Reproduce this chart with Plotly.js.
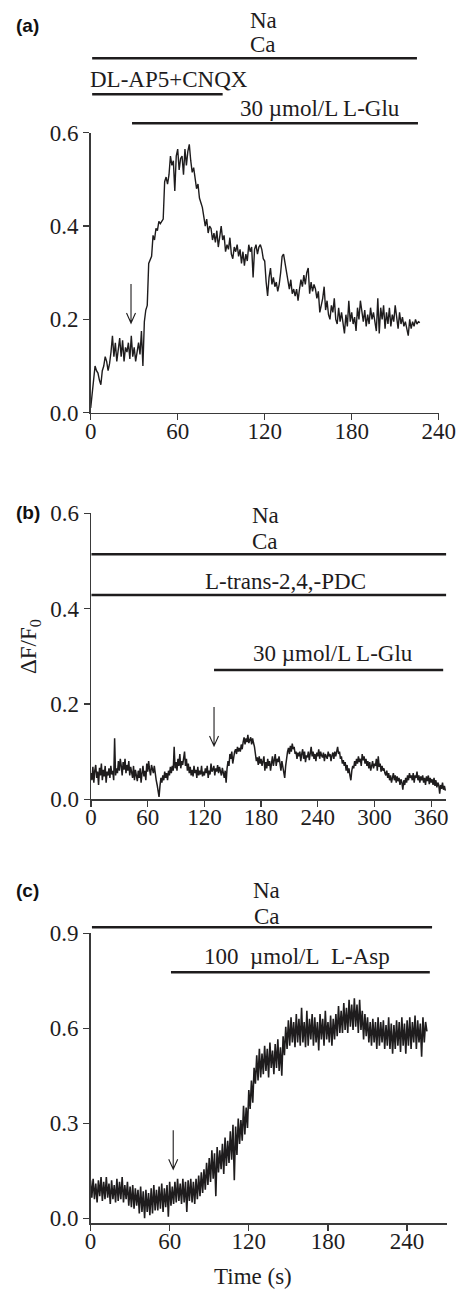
<!DOCTYPE html>
<html>
<head>
<meta charset="utf-8">
<script src="https://cdn.plot.ly/plotly-3.0.1.min.js"></script>
<style>html,body{margin:0;padding:0;background:#fff;}#chart{width:458px;height:1289px;}</style>
</head>
<body>
<div id="chart"></div>
<script>
// ---------- DATA ----------
// Panel (a): dF/F0, one sample per second, t = 0..227 s
const timeStepA = 1;
const dffA = [
0.01,0.04,0.07,0.10,0.09,0.085,
0.07,0.06,0.09,0.10,0.12,
0.11,0.09,0.105,0.13,0.165,
0.12,0.15,0.11,0.14,0.16,
0.12,0.155,0.11,0.14,0.13,
0.15,0.115,0.165,0.12,0.14,
0.11,0.135,0.15,0.125,0.175,
0.10,0.195,0.22,0.23,0.32,
0.33,0.335,0.38,0.37,0.395,
0.39,0.41,0.405,0.41,0.415,
0.495,0.505,0.49,0.51,0.55,
0.53,0.54,0.475,0.55,0.565,
0.52,0.545,0.55,0.51,0.565,
0.53,0.56,0.575,0.54,0.515,
0.525,0.50,0.48,0.49,0.46,
0.45,0.44,0.42,0.40,0.415,
0.385,0.40,0.395,0.37,0.385,
0.365,0.39,0.355,0.385,0.40,
0.37,0.38,0.345,0.36,0.35,
0.375,0.34,0.33,0.355,0.345,
0.36,0.335,0.35,0.32,0.345,
0.315,0.34,0.325,0.36,0.345,
0.355,0.29,0.35,0.36,0.34,
0.355,0.36,0.35,0.33,0.325,
0.28,0.25,0.29,0.31,0.275,
0.29,0.27,0.28,0.26,0.275,
0.30,0.335,0.34,0.32,0.30,
0.285,0.265,0.285,0.255,0.265,
0.25,0.265,0.24,0.265,0.285,
0.27,0.295,0.275,0.30,0.31,
0.255,0.28,0.26,0.275,0.265,
0.245,0.26,0.215,0.23,0.245,
0.27,0.22,0.24,0.21,0.20,
0.23,0.215,0.245,0.20,0.19,
0.225,0.195,0.215,0.185,0.17,
0.21,0.185,0.24,0.195,0.215,
0.19,0.205,0.175,0.225,0.20,
0.24,0.21,0.195,0.22,0.185,
0.21,0.19,0.225,0.20,0.215,
0.19,0.175,0.245,0.17,0.225,
0.20,0.23,0.18,0.215,0.19,
0.225,0.185,0.21,0.195,0.23,
0.20,0.18,0.215,0.19,0.205,
0.185,0.195,0.175,0.165,0.20,
0.18,0.195,0.185,0.20,0.19,
0.195,0.193
];

// Panel (b): one sample per second, t = 0..375 s
const timeStepB = 1;
const dffB = [
0.055,0.04,0.068,0.035,0.06,0.072,0.045,0.058,0.03,0.066,
0.05,0.075,0.04,0.062,0.048,0.07,0.035,0.058,0.05,0.065,
0.045,0.07,0.052,0.06,0.04,0.128,0.05,0.065,0.055,0.08,
0.06,0.085,0.07,0.05,0.078,0.062,0.085,0.055,0.072,0.06,
0.08,0.05,0.068,0.058,0.045,0.07,0.04,0.062,0.05,0.038,
0.06,0.045,0.065,0.035,0.055,0.07,0.048,0.06,0.04,0.075,
0.058,0.08,0.062,0.05,0.072,0.06,0.055,0.07,0.045,0.04,
0.03,0.02,0.005,0.028,0.045,0.035,0.05,0.04,0.058,0.045,
0.055,0.04,0.06,0.05,0.068,0.055,0.07,0.06,0.11,0.065,
0.078,0.06,0.085,0.07,0.095,0.065,0.08,0.072,0.09,0.1,
0.07,0.085,0.06,0.075,0.055,0.068,0.05,0.062,0.048,0.07,
0.055,0.062,0.045,0.068,0.05,0.06,0.052,0.07,0.048,0.058,
0.05,0.065,0.055,0.07,0.045,0.06,0.052,0.075,0.058,0.062,
0.07,0.05,0.065,0.058,0.072,0.055,0.068,0.06,0.05,0.066,
0.058,0.045,0.06,0.035,0.065,0.08,0.07,0.095,0.085,0.1,
0.075,0.092,0.1,0.105,0.095,0.11,0.1,0.108,0.1,0.115,
0.105,0.12,0.13,0.115,0.128,0.12,0.135,0.118,0.125,0.13,
0.115,0.128,0.118,0.11,0.095,0.08,0.088,0.072,0.09,0.075,
0.085,0.07,0.08,0.09,0.06,0.078,0.065,0.085,0.07,0.08,
0.06,0.075,0.09,0.07,0.08,0.095,0.07,0.085,0.078,0.09,
0.075,0.06,0.08,0.065,0.05,0.045,0.07,0.09,0.1,0.108,
0.095,0.112,0.1,0.117,0.105,0.11,0.095,0.1,0.085,0.098,
0.09,0.1,0.08,0.095,0.105,0.085,0.1,0.078,0.092,0.088,
0.1,0.082,0.095,0.11,0.09,0.1,0.085,0.095,0.08,0.098,
0.09,0.105,0.085,0.1,0.092,0.088,0.098,0.08,0.095,0.09,
0.085,0.1,0.09,0.095,0.08,0.092,0.098,0.085,0.1,0.09,
0.105,0.11,0.095,0.1,0.085,0.09,0.075,0.082,0.07,0.078,
0.06,0.072,0.055,0.065,0.05,0.04,0.06,0.07,0.065,0.08,
0.07,0.085,0.075,0.09,0.078,0.085,0.07,0.095,0.082,0.09,
0.075,0.085,0.07,0.08,0.065,0.078,0.06,0.072,0.08,0.065,
0.075,0.07,0.085,0.06,0.09,0.068,0.075,0.058,0.07,0.06,
0.065,0.055,0.05,0.06,0.045,0.055,0.04,0.05,0.035,0.045,
0.055,0.04,0.05,0.035,0.048,0.038,0.045,0.03,0.042,0.035,
0.02,0.04,0.03,0.045,0.035,0.05,0.04,0.055,0.045,0.05,
0.04,0.055,0.035,0.05,0.045,0.058,0.04,0.05,0.035,0.048,
0.04,0.05,0.035,0.045,0.03,0.048,0.038,0.05,0.032,0.045,
0.035,0.042,0.03,0.045,0.028,0.04,0.025,0.035,0.03,0.012,
0.03,0.022,0.035,0.02,0.028,0.018
];

// Panel (c): one sample per second, t = 0..255 s
const timeStepC = 1;
const dffC = [
0.12,0.065,0.125,0.06,0.11,0.05,0.12,0.07,0.13,0.055,
0.115,0.06,0.13,0.065,0.11,0.045,0.12,0.06,0.105,0.05,
0.125,0.055,0.115,0.06,0.13,0.05,0.105,0.06,0.115,0.04,
0.1,0.035,0.105,0.03,0.095,0.04,0.09,0.015,0.1,0.02,
0.085,0.0,0.09,0.02,0.08,0.01,0.095,0.015,0.105,0.025,
0.09,0.025,0.1,0.03,0.11,0.02,0.095,0.035,0.105,0.005,
0.115,0.04,0.1,0.045,0.115,0.05,0.125,0.055,0.11,0.045,
0.125,0.05,0.115,0.02,0.12,0.055,0.125,0.05,0.115,0.045,
0.125,0.06,0.135,0.07,0.145,0.08,0.155,0.09,0.175,0.105,
0.19,0.115,0.215,0.125,0.205,0.07,0.225,0.145,0.215,0.155,
0.235,0.14,0.255,0.165,0.245,0.175,0.275,0.185,0.295,0.12,
0.29,0.2,0.315,0.235,0.31,0.245,0.355,0.265,0.35,0.285,
0.405,0.345,0.435,0.365,0.475,0.425,0.515,0.435,0.535,0.445,
0.52,0.455,0.545,0.465,0.535,0.445,0.555,0.475,0.53,0.455,
0.55,0.475,0.565,0.465,0.54,0.45,0.575,0.515,0.605,0.535,
0.625,0.545,0.635,0.555,0.62,0.54,0.645,0.555,0.63,0.545,
0.665,0.555,0.62,0.54,0.655,0.545,0.63,0.565,0.645,0.545,
0.635,0.555,0.62,0.53,0.645,0.565,0.63,0.545,0.655,0.565,
0.62,0.555,0.64,0.545,0.63,0.565,0.645,0.575,0.67,0.585,
0.655,0.585,0.68,0.595,0.665,0.585,0.69,0.605,0.675,0.595,
0.695,0.605,0.675,0.585,0.69,0.595,0.655,0.565,0.645,0.575,
0.635,0.555,0.62,0.545,0.63,0.555,0.62,0.535,0.635,0.545,
0.62,0.555,0.625,0.535,0.61,0.545,0.635,0.535,0.615,0.52,
0.61,0.535,0.625,0.545,0.62,0.525,0.635,0.545,0.615,0.52,
0.625,0.545,0.635,0.535,0.62,0.555,0.64,0.535,0.625,0.555,
0.615,0.51,0.635,0.555,0.62,0.59
];

// Tick values
const xTicksA = [0, 60, 120, 180, 240];
const yTicksA = [0.0, 0.2, 0.4, 0.6];
const xTicksB = [0, 60, 120, 180, 240, 300, 360];
const yTicksB = [0.0, 0.2, 0.4, 0.6];
const xTicksC = [0, 60, 120, 180, 240];
const yTicksC = [0.0, 0.3, 0.6, 0.9];

// Solution application periods (s)
const barLabelsA = ['Na / Ca', 'DL-AP5+CNQX', '30 µmol/L L-Glu'];
const barStartA = [1, 1, 28.5];
const barEndA = [225, 91, 225.7];
const barLabelsB = ['Na / Ca', 'L-trans-2,4,-PDC', '30 µmol/L L-Glu'];
const barStartB = [0.5, 0.5, 130.2];
const barEndB = [376, 376, 372.7];
const barLabelsC = ['Na / Ca', '100 µmol/L L-Asp'];
const barStartC = [1.1, 61];
const barEndC = [258.9, 257.2];

// Agonist arrival arrows: time (s) and dF/F0 at arrow tip
const arrowTimes = [27.8, 130.2, 62.7];
const arrowTips = [0.192, 0.112, 0.155];

// ---------- LAYOUT ----------
const W = 458, H = 1289;
const px = v => v / W;
const py = v => 1 - v / H;

const serif = '"Liberation Serif", "Times New Roman", serif';
const ink = '#1e1c1d';
const axCol = '#3a3a3a';

function xax(domain, range, ticks, anchor) {
  return {
    domain: domain, range: range, anchor: anchor,
    tickmode: 'array', tickvals: ticks, ticktext: ticks.map(String),
    showline: true, linecolor: axCol, linewidth: 1.5,
    ticks: 'outside', ticklen: 6, tickwidth: 1.3, tickcolor: axCol,
    ticklabelstandoff: -9,
    showgrid: false, zeroline: false, fixedrange: true,
    tickfont: {family: serif, size: 23, color: ink}
  };
}
function yax(domain, range, ticks, anchor) {
  return {
    domain: domain, range: range, anchor: anchor,
    tickmode: 'array', tickvals: ticks, ticktext: ticks.map(v => v.toFixed(1)),
    showline: true, linecolor: axCol, linewidth: 1.5,
    ticks: 'outside', ticklen: 6, tickwidth: 1.3, tickcolor: axCol,
    showgrid: false, zeroline: false, fixedrange: true,
    tickfont: {family: serif, size: 23, color: ink}
  };
}

const data = [
  {type: 'scatter', mode: 'lines', x0: 0, dx: timeStepA, y: dffA, xaxis: 'x', yaxis: 'y', line: {color: ink, width: 1.4}, hoverinfo: 'skip'},
  {type: 'scatter', mode: 'lines', x0: 0, dx: timeStepB, y: dffB, xaxis: 'x2', yaxis: 'y2', line: {color: ink, width: 1.5}, hoverinfo: 'skip'},
  {type: 'scatter', mode: 'lines', x0: 0, dx: timeStepC, y: dffC, xaxis: 'x3', yaxis: 'y3', line: {color: ink, width: 1.6}, hoverinfo: 'skip'}
];

const shapes = [];
function bar(xref, x0, x1, ypix) {
  shapes.push({type: 'line', xref: xref, yref: 'paper', x0: x0, x1: x1, y0: py(ypix), y1: py(ypix),
    line: {color: ink, width: 2.6}});
}
const barYA = [58.3, 94.3, 123.3];
barStartA.forEach((s, i) => bar('x', s, barEndA[i], barYA[i]));
const barYB = [554.3, 595, 670];
barStartB.forEach((s, i) => bar('x2', s, barEndB[i], barYB[i]));
const barYC = [927.3, 972.3];
barStartC.forEach((s, i) => bar('x3', s, barEndC[i], barYC[i]));

const arrowRefs = [['x', 'y'], ['x2', 'y2'], ['x3', 'y3']];
arrowTimes.forEach((t, i) => {
  shapes.push({type: 'path', xref: arrowRefs[i][0], yref: arrowRefs[i][1],
    xsizemode: 'pixel', ysizemode: 'pixel', xanchor: t, yanchor: arrowTips[i],
    path: 'M0,39 L0,0 M-4.5,10 L0,0 L4.5,10',
    line: {color: ink, width: 1.1}});
});

const tf = {family: serif, size: 23, color: ink};
const lf = {family: '"Liberation Sans", Arial, sans-serif', size: 19, color: '#111', weight: 'bold'};
function ann(text, x, y, xanchor, font, extra) {
  return Object.assign({text: text, xref: 'paper', yref: 'paper', x: px(x), y: py(y),
    xanchor: xanchor || 'center', yanchor: 'middle', showarrow: false, font: font || tf}, extra || {});
}
const annotations = [
  ann('(a)', 14, 25, 'left', lf),
  ann('Na', 263, 20),
  ann('Ca', 263, 45),
  ann('DL-AP5+CNQX', 88, 79, 'left'),
  ann('30 µmol/L L-Glu', 319.5, 108),
  ann('(b)', 14, 513, 'left', lf),
  ann('Na', 265, 515),
  ann('Ca', 265, 541.7),
  ann('L-trans-2,4,-PDC', 285.8, 581.7),
  ann('30 µmol/L L-Glu', 332.5, 653.3),
  ann('ΔF/F<sub>0</sub>', 30, 647, 'center', tf, {textangle: -90}),
  ann('(c)', 14, 890, 'left', lf),
  ann('Na', 266.7, 890),
  ann('Ca', 266.7, 916.7),
  ann('100\u00a0 µmol/L\u00a0 L-Asp', 296.7, 956.7),
  ann('Time (s)', 253, 1276.7)
];

const layout = {
  width: W, height: H,
  margin: {l: 0, r: 0, t: 0, b: 0},
  font: {family: serif, size: 23, color: ink},
  paper_bgcolor: '#fff', plot_bgcolor: 'rgba(0,0,0,0)',
  showlegend: false,
  xaxis: xax([px(90.7), px(438.7)], [0, 240], xTicksA, 'y'),
  yaxis: yax([py(412.7), py(132.7)], [0, 0.6], yTicksA, 'x'),
  xaxis2: xax([px(91), px(446.3)], [0, 376], xTicksB, 'y2'),
  yaxis2: yax([py(799.3), py(513.3)], [0, 0.6], yTicksB, 'x2'),
  xaxis3: xax([px(90.5), px(446.7)], [0, 270], xTicksC, 'y3'),
  yaxis3: yax([py(1223.3), py(933.3)], [-0.0158, 0.9], yTicksC, 'x3'),
  shapes: shapes,
  annotations: annotations
};

Plotly.newPlot('chart', data, layout, {displayModeBar: false, staticPlot: true});
</script>
</body>
</html>
